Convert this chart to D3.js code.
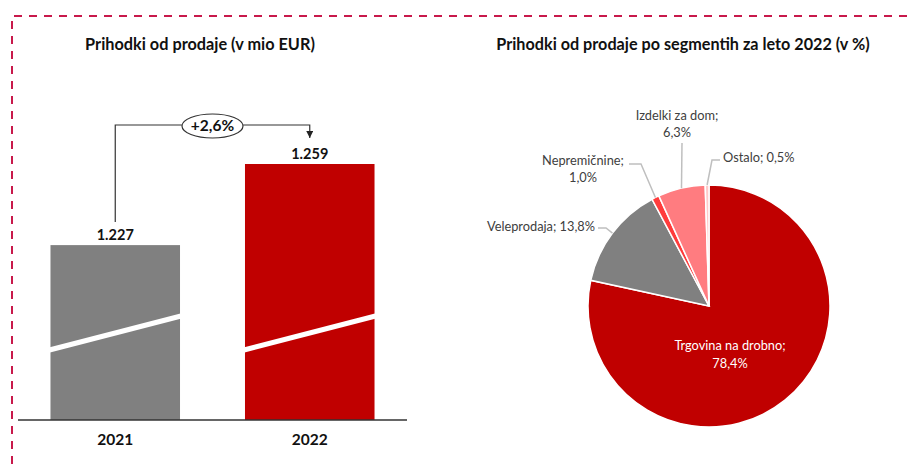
<!DOCTYPE html>
<html><head><meta charset="utf-8">
<script src="https://cdn.jsdelivr.net/npm/d3@7"></script>
<style>body{margin:0;background:#fff} svg{display:block} text{font-family:Lato,"Noto Sans",sans-serif}</style>
</head><body><svg id="c" width="911" height="464"></svg>
<script>
// ---- data ----
const years = ["2021", "2022"];
const revenue = [1227, 1259];
const revenueLabels = ["1.227", "1.259"];
const growthLabel = "+2,6%";
const leftTitle = "Prihodki od prodaje (v mio EUR)";
const rightTitle = "Prihodki od prodaje po segmentih za leto 2022 (v %)";
const segments = ["Trgovina na drobno", "Veleprodaja", "Nepremičnine", "Izdelki za dom", "Ostalo"];
const shares = [78.4, 13.8, 1.0, 6.3, 0.5];
const shareLabels = ["78,4%", "13,8%", "1,0%", "6,3%", "0,5%"];
const segColors = ["#C00000", "#808080", "#FF3B3B", "#FF7C80", "#FFC9C9"];

const svg = d3.select("#c");

// dashed frame
svg.append("path").attr("d", "M12,464V16H911").attr("fill", "none")
  .attr("stroke", "#C8194B").attr("stroke-width", 2).attr("stroke-dasharray", "8,7");

// titles
svg.append("text").attr("x", 200).attr("y", 50).attr("text-anchor", "middle")
  .attr("font-weight", "bold").attr("font-size", 16.3).attr("fill", "#111").text(leftTitle);
svg.append("text").attr("x", 683).attr("y", 50).attr("text-anchor", "middle")
  .attr("font-weight", "bold").attr("font-size", 16.2).attr("fill", "#111").text(rightTitle);

// ---- bar chart ----
const x = d3.scaleBand().domain(years).range([18, 407]).paddingInner(0.334).paddingOuter(0.167);
const y = d3.scaleLinear().domain([1158, 1259]).range([420, 164]);
const barColors = ["#808080", "#C00000"];
const g = svg.append("g");
g.selectAll("rect.bar").data(years).join("rect").attr("class", "bar")
  .attr("x", d => x(d)).attr("width", x.bandwidth())
  .attr("y", (d, i) => y(revenue[i])).attr("height", (d, i) => y(1158) - y(revenue[i]))
  .attr("fill", (d, i) => barColors[i]);
// axis-break stripes
g.selectAll("line.brk").data(years).join("line").attr("class", "brk")
  .attr("x1", d => x(d) - 1).attr("x2", d => x(d) + x.bandwidth() + 1)
  .attr("y1", y(1158) - 70).attr("y2", y(1158) - 104)
  .attr("stroke", "#fff").attr("stroke-width", 5);
// baseline axis
const xAxis = d3.axisBottom(x).tickSize(0).tickPadding(14);
const ax = g.append("g").attr("transform", `translate(0,${y(1158)})`).call(xAxis);
ax.select(".domain").attr("d", "M18,0H407").attr("stroke", "#333").attr("stroke-width", 1.5);
ax.selectAll("text").attr("font-size", 15.5).attr("font-weight", "bold").attr("fill", "#111")
  .attr("font-family", "Lato,'Noto Sans',sans-serif");
// value labels
g.selectAll("text.val").data(years).join("text").attr("class", "val")
  .attr("x", d => x(d) + x.bandwidth() / 2).attr("y", (d, i) => y(revenue[i]) - 5)
  .attr("text-anchor", "middle").attr("font-size", 14.5).attr("font-weight", "bold").attr("fill", "#111")
  .text((d, i) => revenueLabels[i]);
// growth bracket
const cx0 = x(years[0]) + x.bandwidth() / 2, cx1 = x(years[1]) + x.bandwidth() / 2;
const topY = 125;
svg.append("defs").append("marker").attr("id", "arr").attr("viewBox", "0 0 10 10")
  .attr("refX", 10).attr("refY", 5).attr("markerWidth", 7).attr("markerHeight", 7)
  .attr("markerUnits", "userSpaceOnUse").attr("orient", "auto")
  .append("path").attr("d", "M0,0L10,5L0,10Z").attr("fill", "#222");
g.append("path").attr("d", `M${cx0},${y(revenue[0]) - 23}V${topY}H${cx1}V${y(revenue[1]) - 26}`)
  .attr("fill", "none").attr("stroke", "#333").attr("stroke-width", 1.2).attr("marker-end", "url(#arr)");
const mx = (cx0 + cx1) / 2;
g.append("ellipse").attr("cx", mx).attr("cy", topY + 1).attr("rx", 30.5).attr("ry", 12)
  .attr("fill", "#fff").attr("stroke", "#333").attr("stroke-width", 1.2);
g.append("text").attr("x", mx).attr("y", topY + 6).attr("text-anchor", "middle")
  .attr("font-size", 15.5).attr("font-weight", "bold").attr("fill", "#111").text(growthLabel);

// ---- pie chart ----
const pcx = 709, pcy = 306, R = 121;
const pie = d3.pie().sort(null).value(d => d)(shares);
const arc = d3.arc().innerRadius(0).outerRadius(R);
const pg = svg.append("g").attr("transform", `translate(${pcx},${pcy})`);
pg.selectAll("path").data(pie).join("path").attr("d", arc)
  .attr("fill", (d, i) => segColors[i]).attr("stroke", "#fff").attr("stroke-width", 1.5);

function edge(d) {
  const a = (d.startAngle + d.endAngle) / 2;
  return [Math.sin(a) * R, -Math.cos(a) * R];
}
const lblColor = "#404040", leadColor = "#BFBFBF";
// label layouts (relative to pie centre)
const layouts = [
  null,
  {lines: [segments[1] + "; " + shareLabels[1]], anchor: "end", tx: -114, ty: -80, pts: [[-103, -78], [-111, -78]]},
  {lines: [segments[2] + ";", shareLabels[2]], anchor: "middle", tx: -126, ty: -146, pts: [[-68, -142], [-80, -142]]},
  {lines: [segments[3] + ";", shareLabels[3]], anchor: "middle", tx: -32, ty: -191, pts: [[-27, -163]]},
  {lines: [segments[4] + "; " + shareLabels[4]], anchor: "start", tx: 14, ty: -149, pts: [[3, -146], [11, -146]]}
];
pie.forEach((d, i) => {
  const L = layouts[i];
  if (!L) return;
  const p = [edge(d)].concat(L.pts);
  pg.append("path").attr("d", d3.line()(p)).attr("fill", "none")
    .attr("stroke", leadColor).attr("stroke-width", 1.5);
  L.lines.forEach((t, k) => {
    pg.append("text").attr("x", L.tx).attr("y", L.ty + k * 17 + 4.5)
      .attr("text-anchor", L.anchor).attr("font-size", 12.8).attr("fill", lblColor).text(t);
  });
});
// inside label
const inLines = [segments[0] + ";", shareLabels[0]];
inLines.forEach((t, k) => {
  pg.append("text").attr("x", 21).attr("y", 39 + k * 18 + 4.5).attr("text-anchor", "middle")
    .attr("font-size", 12.8).attr("fill", "#fff").text(t);
});
</script></body></html>
